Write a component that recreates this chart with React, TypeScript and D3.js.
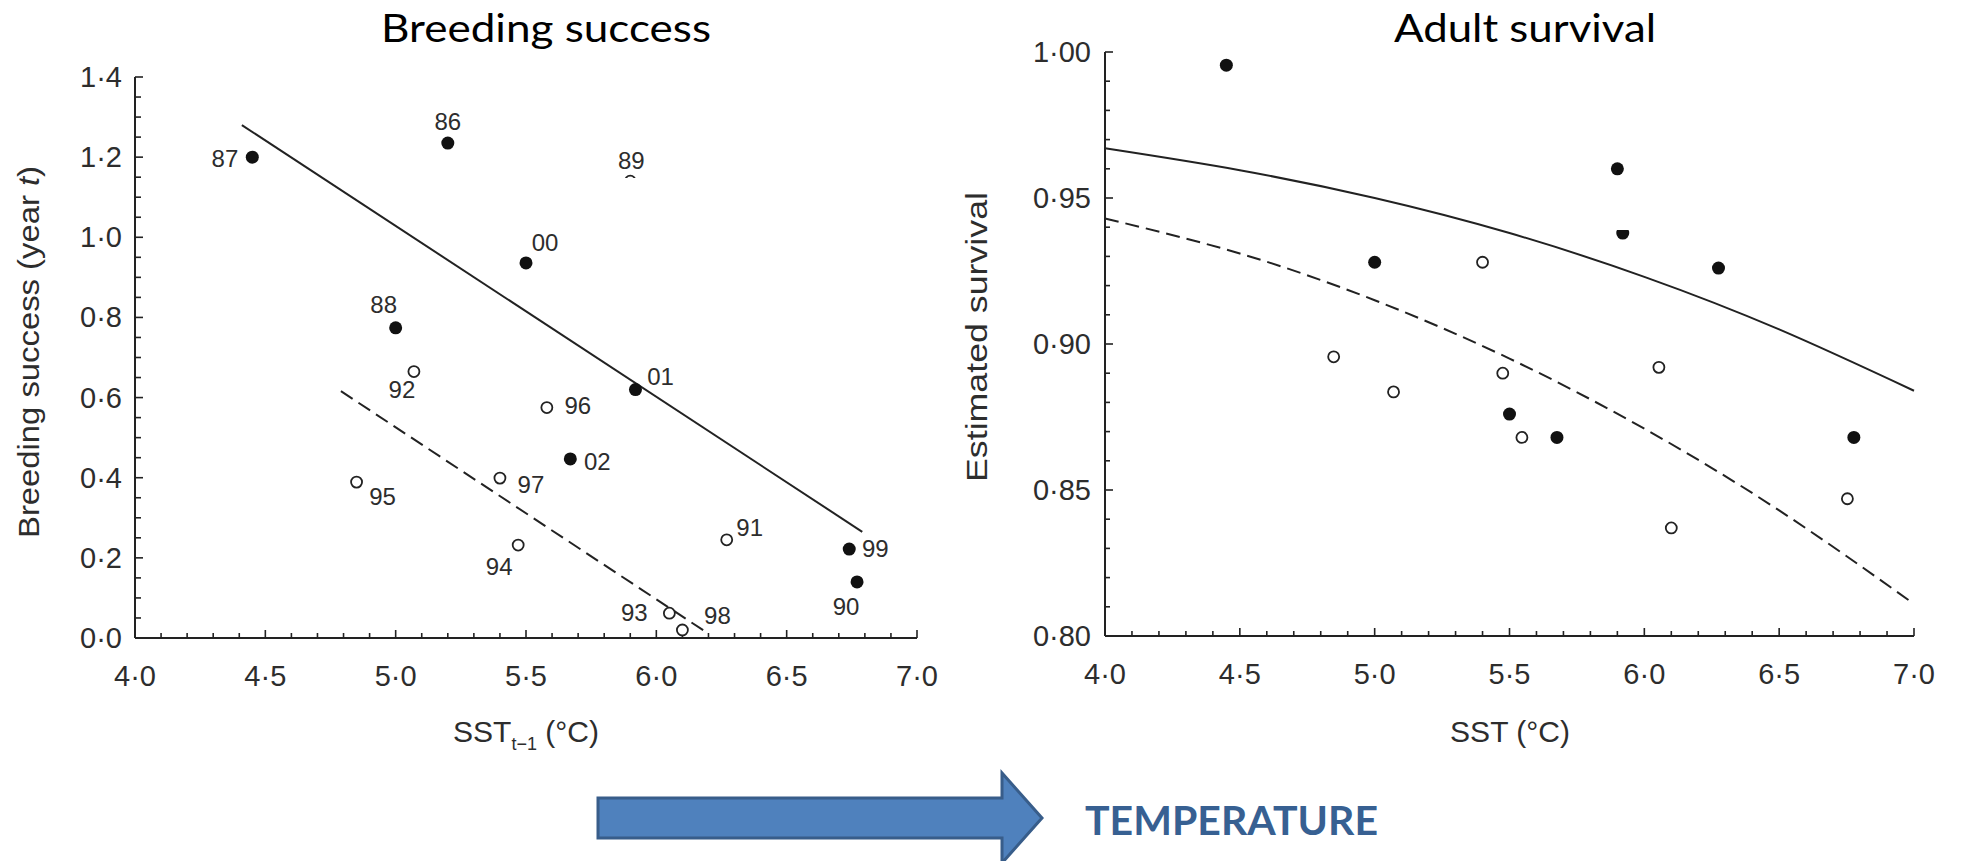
import React, { useEffect } from 'react';
import * as d3 from 'd3';

// ---------- Data: Breeding success (left panel) ----------
const breedingYears = ['87', '86', '89', '00', '88', '01', '92', '96', '02', '97', '95', '94', '91', '99', '90', '93', '98'];
const breedingSST = [4.45, 5.2, 5.9, 5.5, 5.0, 5.92, 5.07, 5.58, 5.67, 5.4, 4.85, 5.47, 6.27, 6.74, 6.77, 6.05, 6.1];
const breedingValues = [1.2, 1.235, 1.14, 0.936, 0.774, 0.62, 0.665, 0.575, 0.447, 0.399, 0.389, 0.232, 0.245, 0.222, 0.14, 0.062, 0.02];
const breedingFilled = [true, true, false, true, true, true, false, false, true, false, false, false, false, true, true, false, false];
const breedingSolidSST = [4.41, 6.79];
const breedingSolidValues = [1.28, 0.265];
const breedingDashedSST = [4.79, 6.19];
const breedingDashedValues = [0.616, 0.015];

// ---------- Data: Adult survival (right panel) ----------
const survivalFilledSST = [4.45, 5.9, 5.92, 5.0, 6.275, 5.5, 5.676, 6.777];
const survivalFilledValues = [0.9955, 0.96, 0.938, 0.928, 0.926, 0.876, 0.868, 0.868];
const survivalOpenSST = [5.4, 4.848, 5.475, 6.054, 5.07, 5.546, 6.753, 6.1];
const survivalOpenValues = [0.928, 0.8956, 0.89, 0.892, 0.8836, 0.868, 0.847, 0.837];
const survivalCurveSST = [4.0, 4.5, 5.0, 5.5, 6.0, 6.5, 7.0];
const survivalSolidCurve = [0.967, 0.9595, 0.95, 0.938, 0.923, 0.905, 0.884];
const survivalDashedCurve = [0.943, 0.931, 0.915, 0.895, 0.871, 0.843, 0.811];

// ---------- Tick values ----------
const sstTicks = [4.0, 4.5, 5.0, 5.5, 6.0, 6.5, 7.0];
const breedingTicks = [0.0, 0.2, 0.4, 0.6, 0.8, 1.0, 1.2, 1.4];
const survivalTicks = [0.8, 0.85, 0.9, 0.95, 1.0];

// ---------- Label offsets (layout only) ----------
const labelOffsets: Record<string, [number, number, string]> = {
  '87': [-14, 10, 'end'],
  '86': [0, -13, 'middle'],
  '89': [1, -12, 'middle'],
  '00': [19, -12, 'middle'],
  '88': [-12, -15, 'middle'],
  '01': [25, -5, 'middle'],
  '92': [-12, 26, 'middle'],
  '96': [31, 6, 'middle'],
  '02': [27, 11, 'middle'],
  '97': [31, 15, 'middle'],
  '95': [26, 23, 'middle'],
  '94': [-19, 30, 'middle'],
  '91': [23, -4, 'middle'],
  '99': [26, 8, 'middle'],
  '90': [-11, 33, 'middle'],
  '93': [-35, 8, 'middle'],
  '98': [35, -6, 'middle'],
};

const W = 1961;
const H = 861;
const FONT = '"Liberation Sans", Arial, Helvetica, sans-serif';
const INK = '#222';
const TXT = '#2d2d2d';
const dot = (s: string) => s.replace('.', '·');

export default function App() {
  useEffect(() => {
    document.body.style.margin = '0';
    document.body.style.overflow = 'hidden';
  }, []);

  // scales
  const xL = d3.scaleLinear().domain([4, 7]).range([135, 917]);
  const yL = d3.scaleLinear().domain([0, 1.4]).range([638, 77]);
  const xR = d3.scaleLinear().domain([4, 7]).range([1105, 1914]);
  const yR = d3.scaleLinear().domain([0.8, 1.0]).range([636, 52]);

  const f1 = d3.format('.1f');
  const f2 = d3.format('.2f');

  const lineL = d3.line<[number, number]>().x(d => xL(d[0])).y(d => yL(d[1]));
  const lineR = d3.line<[number, number]>().x(d => xR(d[0])).y(d => yR(d[1])).curve(d3.curveNatural);

  const solidL = lineL(breedingSolidSST.map((x, i) => [x, breedingSolidValues[i]] as [number, number]));
  const dashedL = lineL(breedingDashedSST.map((x, i) => [x, breedingDashedValues[i]] as [number, number]));
  const solidR = lineR(survivalCurveSST.map((x, i) => [x, survivalSolidCurve[i]] as [number, number]));
  const dashedR = lineR(survivalCurveSST.map((x, i) => [x, survivalDashedCurve[i]] as [number, number]));

  const xMinor = d3.range(0, 31).map(i => ({ v: 4 + i * 0.1, major: i % 5 === 0 }));
  const yMinorL = d3.range(0, 29).map(i => ({ v: i * 0.05, major: i % 4 === 0 }));
  const yMinorR = d3.range(0, 21).map(i => ({ v: 0.8 + i * 0.01, major: i % 5 === 0 }));

  const axisStroke = { stroke: INK, strokeWidth: 2, fill: 'none' };

  const renderXAxis = (x: d3.ScaleLinear<number, number>, y0: number, key: string) => (
    <g key={key}>
      <line x1={x(4)} x2={x(7)} y1={y0} y2={y0} {...axisStroke} />
      {xMinor.map((t, i) => (
        <line key={i} x1={x(t.v)} x2={x(t.v)} y1={y0} y2={y0 - (t.major ? 8 : 5)} stroke={INK} strokeWidth={1.6} />
      ))}
      {sstTicks.map(t => (
        <text key={t} x={x(t)} y={y0 + 48} textAnchor="middle" fontFamily={FONT} fontSize={29} fill={TXT}>
          {dot(f1(t))}
        </text>
      ))}
    </g>
  );

  return (
    <svg width={W} height={H} viewBox={`0 0 ${W} ${H}`} style={{ position: 'absolute', left: 0, top: 0, display: 'block', background: '#fff' }}>
      <rect x={0} y={0} width={W} height={H} fill="#fff" />

      {/* Titles */}
      <text x={546} y={42} textAnchor="middle" fontFamily="Lato, 'Open Sans', sans-serif" fontSize={38} fill="#000" textLength={330} lengthAdjust="spacingAndGlyphs">
        Breeding success
      </text>
      <text x={1525} y={42} textAnchor="middle" fontFamily="Lato, 'Open Sans', sans-serif" fontSize={38} fill="#000" textLength={262} lengthAdjust="spacingAndGlyphs">
        Adult survival
      </text>

      {/* ---------- LEFT PANEL ---------- */}
      <line x1={xL(4)} x2={xL(4)} y1={yL(0)} y2={yL(1.4)} {...axisStroke} />
      {yMinorL.map((t, i) => (
        <line key={i} x1={xL(4)} x2={xL(4) + (t.major ? 8 : 6)} y1={yL(t.v)} y2={yL(t.v)} stroke={INK} strokeWidth={1.6} />
      ))}
      {breedingTicks.map(t => (
        <text key={t} x={122} y={yL(t) + 10} textAnchor="end" fontFamily={FONT} fontSize={29} fill={TXT}>
          {dot(f1(t))}
        </text>
      ))}
      {renderXAxis(xL, yL(0), 'xl')}

      <text x={526} y={742} textAnchor="middle" fontFamily={FONT} fontSize={30} fill={TXT}>
        SST
        <tspan fontSize={18} dy={8}>t−1</tspan>
        <tspan dy={-8}> (°C)</tspan>
      </text>
      <text transform="translate(39,352) rotate(-90)" textAnchor="middle" fontFamily={FONT} fontSize={30} fill={TXT} textLength={372} lengthAdjust="spacingAndGlyphs">
        Breeding success (year <tspan fontStyle="italic">t</tspan>)
      </text>

      <path d={solidL || ''} stroke={INK} strokeWidth={2} fill="none" />
      <path d={dashedL || ''} stroke={INK} strokeWidth={2} fill="none" strokeDasharray="14 7" />

      {breedingYears.map((yr, i) => {
        const cx = xL(breedingSST[i]);
        const cy = yL(breedingValues[i]);
        const [dx, dy, anchor] = labelOffsets[yr];
        return (
          <g key={yr}>
            {breedingFilled[i] ? (
              <circle cx={cx} cy={cy} r={6.5} fill="#111" />
            ) : (
              <circle cx={cx} cy={cy} r={5.5} fill="#fff" stroke={INK} strokeWidth={1.8} />
            )}
            <text x={cx + dx} y={cy + dy} textAnchor={anchor} fontFamily={FONT} fontSize={24} fill={TXT}>
              {yr}
            </text>
          </g>
        );
      })}
      {/* white patch of the scanned figure hiding the 89 point */}
      <rect x={580} y={178} width={110} height={120} fill="#fff" />

      {/* ---------- RIGHT PANEL ---------- */}
      <line x1={xR(4)} x2={xR(4)} y1={yR(0.8)} y2={yR(1.0)} {...axisStroke} />
      {yMinorR.map((t, i) => (
        <line key={i} x1={xR(4)} x2={xR(4) + (t.major ? 8 : 5)} y1={yR(t.v)} y2={yR(t.v)} stroke={INK} strokeWidth={1.6} />
      ))}
      {survivalTicks.map(t => (
        <text key={t} x={1091} y={yR(t) + 10} textAnchor="end" fontFamily={FONT} fontSize={29} fill={TXT}>
          {dot(f2(t))}
        </text>
      ))}
      {renderXAxis(xR, yR(0.8), 'xr')}

      <text x={1510} y={742} textAnchor="middle" fontFamily={FONT} fontSize={30} fill={TXT}>
        SST (°C)
      </text>
      <text transform="translate(987,337) rotate(-90)" textAnchor="middle" fontFamily={FONT} fontSize={30} fill={TXT} textLength={290} lengthAdjust="spacingAndGlyphs">
        Estimated survival
      </text>

      <path d={solidR || ''} stroke={INK} strokeWidth={2} fill="none" />
      <path d={dashedR || ''} stroke={INK} strokeWidth={2} fill="none" strokeDasharray="14 7" />

      {survivalFilledSST.map((x, i) => (
        <circle key={'f' + i} cx={xR(x)} cy={yR(survivalFilledValues[i])} r={6.5} fill="#111" />
      ))}
      {survivalOpenSST.map((x, i) => (
        <circle key={'o' + i} cx={xR(x)} cy={yR(survivalOpenValues[i])} r={5.5} fill="#fff" stroke={INK} strokeWidth={1.8} />
      ))}
      {/* white patch of the scanned figure partly hiding one point */}
      <rect x={1560} y={178} width={90} height={52} fill="#fff" />

      {/* ---------- Arrow + TEMPERATURE ---------- */}
      <path d="M598,798 L1002,798 L1002,773 L1042,818 L1002,863 L1002,838 L598,838 Z" fill="#4F81BD" stroke="#385D8A" strokeWidth={3} />
      <text x={1085} y={835} fontFamily="Lato, 'Open Sans', sans-serif" fontWeight={700} fontSize={40} fill="#376092" textLength={293} lengthAdjust="spacingAndGlyphs">
        TEMPERATURE
      </text>
    </svg>
  );
}
